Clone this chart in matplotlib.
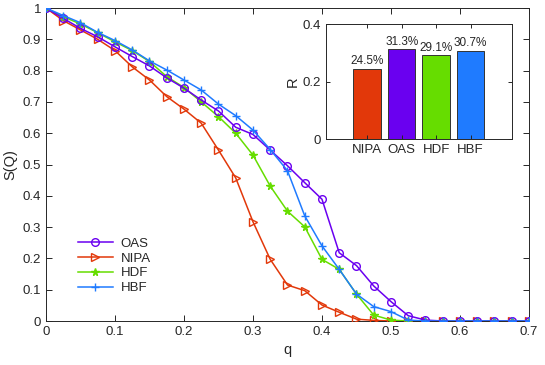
import numpy as np
import matplotlib
matplotlib.use('Agg')
import matplotlib.pyplot as plt

plt.rcParams['font.family'] = ['Liberation Sans', 'DejaVu Sans']

q = np.arange(29) * 0.025

oas = [1.0, 0.967, 0.935, 0.908, 0.876, 0.845, 0.815, 0.777, 0.744, 0.706,
       0.671, 0.619, 0.596, 0.546, 0.496, 0.442, 0.389, 0.218, 0.177, 0.112,
       0.062, 0.017, 0.003, 0, 0, 0, 0, 0, 0]
nipa = [1.0, 0.96, 0.93, 0.90, 0.864, 0.812, 0.77, 0.717, 0.677, 0.632,
        0.546, 0.457, 0.317, 0.197, 0.115, 0.097, 0.051, 0.028, 0.006, 0.002,
        0, 0, 0, 0, 0, 0, 0, 0, 0]
hdf = [1.0, 0.972, 0.949, 0.921, 0.892, 0.864, 0.829, 0.781, 0.746, 0.70,
       0.653, 0.60, 0.53, 0.431, 0.351, 0.301, 0.197, 0.165, 0.086, 0.019,
       0.003, 0, 0, 0, 0, 0, 0, 0, 0]
hbf = [1.0, 0.976, 0.953, 0.922, 0.896, 0.866, 0.831, 0.802, 0.77, 0.738,
       0.693, 0.656, 0.61, 0.548, 0.48, 0.336, 0.24, 0.165, 0.086, 0.046,
       0.03, 0.003, 0, 0, 0, 0, 0, 0, 0]

bar_names = ['NIPA', 'OAS', 'HDF', 'HBF']
bar_vals = [0.245, 0.313, 0.291, 0.307]
bar_text = ['24.5%', '31.3%', '29.1%', '30.7%']

c_oas = '#6a00f0'
c_nipa = '#e2380a'
c_hdf = '#66dd00'
c_hbf = '#1f7bff'
axc = '#262626'

fig = plt.figure(figsize=(5.45, 3.65), dpi=100, facecolor='white')
ax = fig.add_axes([0.0844, 0.1205, 0.8862, 0.8575])

ax.plot(q, oas, color=c_oas, marker='o', mfc='none', ms=5.5, lw=1.1, mew=1.0, label='OAS', zorder=4)
ax.plot(q, nipa, color=c_nipa, marker='>', mfc='none', ms=6, lw=1.1, mew=1.0, label='NIPA', zorder=3)
ax.plot(q, hdf, color=c_hdf, marker='*', ms=5.5, lw=1.1, mew=1.0, label='HDF', zorder=3)
ax.plot(q, hbf, color=c_hbf, marker='+', ms=6, lw=1.1, mew=1.0, label='HBF', zorder=5)

ax.set_xlim(0, 0.7)
ax.set_ylim(0, 1)
ax.set_xticks(np.arange(0, 0.71, 0.1))
ax.set_xticklabels(['0', '0.1', '0.2', '0.3', '0.4', '0.5', '0.6', '0.7'])
ax.set_yticks(np.arange(0, 1.01, 0.1))
ax.set_yticklabels(['0', '0.1', '0.2', '0.3', '0.4', '0.5', '0.6', '0.7', '0.8', '0.9', '1'])
ax.tick_params(direction='in', length=4, top=True, right=True, labelsize=9.5, colors=axc, width=0.7)
for s in ax.spines.values():
    s.set_color(axc)
    s.set_linewidth(0.7)
ax.set_xlabel('q', fontsize=10.5, color=axc)
ax.set_ylabel('S(Q)', fontsize=10.5, color=axc)

leg = ax.legend(loc='upper left', bbox_to_anchor=(0.056, 0.284), frameon=False, fontsize=9.5,
                handlelength=2.6, labelspacing=0.2, handletextpad=0.6, borderaxespad=0)
for t in leg.get_texts():
    t.set_color(axc)

ins = fig.add_axes([0.598, 0.6184, 0.3413, 0.3158])
xb = np.arange(1, 5)
ins.bar(xb, bar_vals, width=0.8, color=[c_nipa, c_oas, c_hdf, c_hbf], edgecolor='#333333', linewidth=0.7)
for x, v, t in zip(xb, bar_vals, bar_text):
    ins.text(x, v + 0.005, t, ha='center', va='bottom', fontsize=8.5, color=axc)
ins.set_xlim(-0.2, 5.2)
ins.set_ylim(0, 0.4)
ins.set_xticks(xb)
ins.set_xticklabels(bar_names)
ins.set_yticks([0, 0.2, 0.4])
ins.set_yticklabels(['0', '0.2', '0.4'])
ins.tick_params(direction='in', length=3, top=True, right=True, labelsize=9.5, colors=axc, width=0.7)
for s in ins.spines.values():
    s.set_color(axc)
    s.set_linewidth(0.7)
ins.set_ylabel('R', fontsize=10.5, color=axc, labelpad=2)

fig.savefig('out.png', dpi=100, facecolor='white')
